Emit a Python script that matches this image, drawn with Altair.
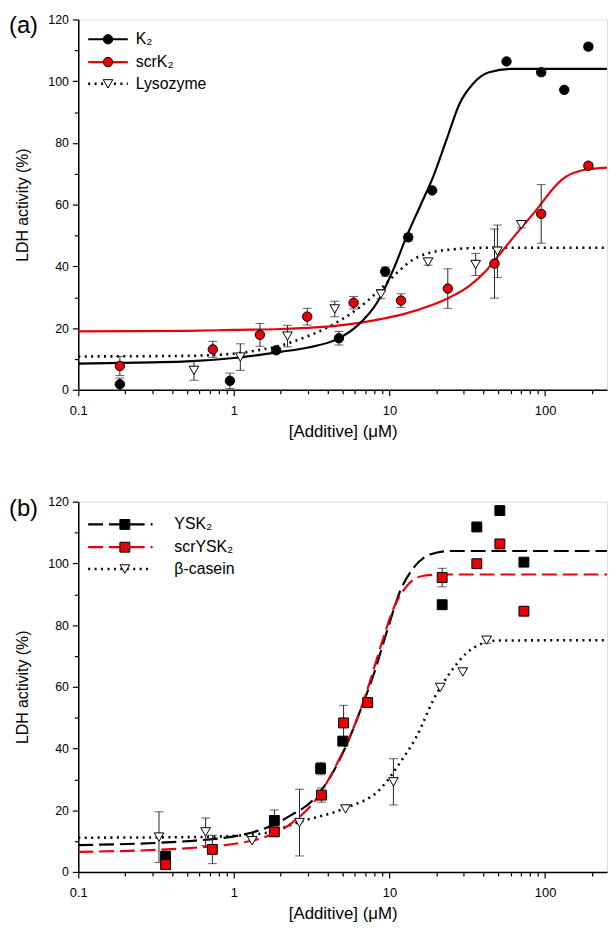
import altair as alt
import pandas as pd

# ---------------- Panel (a) ----------------
k2_x = [0.185, 0.943, 1.87, 4.73, 9.39, 13.2, 18.8, 56.5, 94.4, 132.8, 189.7]
k2_y = [1.8, 2.9, 12.8, 16.7, 38.3, 49.4, 64.6, 106.4, 102.9, 97.2, 111.2]
k2_err = [2.0, 2.5, 0.8, 2.2, 1.5, 1.2, 0.0, 0.0, 1.0, 0.0, 1.0]

scrk2_x = [0.185, 0.732, 1.47, 2.96, 5.88, 11.86, 23.7, 47.3, 94.4, 189.7]
scrk2_y = [7.7, 13.1, 17.8, 23.7, 28.2, 28.9, 32.8, 40.9, 57.0, 72.6]
scrk2_err = [3.1, 2.6, 3.7, 2.7, 2.0, 2.2, 6.4, 11.2, 9.5, 1.0]

lys_x = [0.554, 1.10, 2.21, 4.45, 8.81, 17.7, 35.8, 49.4, 70.3]
lys_y = [6.3, 10.6, 17.4, 26.2, 31.0, 41.4, 40.6, 44.9, 53.5]
lys_err = [3.2, 4.3, 3.5, 2.5, 1.5, 1.0, 3.6, 8.5, 1.0]

k2_fit_x = [0.1, 0.3, 0.5, 1, 2, 3, 4.64, 6.22, 8.33, 10.6, 12.9, 15.7, 19.1, 23.2, 28.2, 34.3, 43.7, 61.5, 250]
k2_fit_y = [8.5, 8.9, 9.2, 10.3, 12.3, 13.7, 16.5, 20.8, 28.3, 39.0, 49.8, 59.4, 69.1, 80.9, 92.7, 99.1, 102.9, 104.0, 104.0]

scrk2_fit_x = [0.1, 0.5, 1, 2, 4.64, 6.22, 8.74, 12.3, 18.2, 24.3, 32.6, 41.6, 53.1, 67.7, 86.4, 115.8, 127.7, 179.5, 250]
scrk2_fit_y = [18.9, 19.1, 19.4, 19.7, 20.8, 21.6, 22.9, 24.5, 27.2, 29.9, 33.7, 38.5, 45.0, 51.5, 57.8, 65.9, 68.0, 71.3, 72.0]

lys_fit_x = [0.1, 0.5, 1, 1.5, 2, 2.59, 4.21, 6.22, 8.74, 11.2, 14.2, 18.2, 25.6, 40, 250]
lys_fit_y = [10.8, 11.0, 11.7, 13.0, 14.3, 16.2, 20.8, 26.2, 32.6, 38.0, 42.2, 44.4, 45.5, 46.0, 46.0]

# ---------------- Panel (b) ----------------
ysk2_x = [0.364, 1.82, 3.61, 5.01, 21.8, 36.4, 51.2, 73.1]
ysk2_y = [5.1, 16.7, 33.5, 42.4, 86.6, 111.8, 117.1, 100.4]
ysk2_err = [1.0, 3.4, 2.0, 1.0, 1.0, 0.0, 0.0, 0.0]

scrysk2_x = [0.364, 0.727, 1.82, 3.65, 5.07, 7.24, 21.8, 36.4, 51.2, 73.1]
scrysk2_y = [2.4, 7.3, 13.0, 24.9, 48.3, 54.9, 95.4, 99.9, 106.3, 84.5]
scrysk2_err = [1.0, 4.6, 1.0, 2.3, 5.7, 0.8, 3.0, 1.0, 1.0, 0.0]

cas_x = [0.33, 0.658, 1.31, 2.64, 5.22, 10.6, 21.2, 29.6, 42.1]
cas_y = [11.3, 13.0, 10.1, 16.0, 20.4, 29.2, 59.8, 64.8, 75.1]
cas_err = [8.2, 4.5, 0.0, 10.8, 0.0, 7.5, 0.0, 0.0, 1.0]

ysk2_fit_x = [0.1, 0.543, 1.44, 2.35, 3.15, 4.22, 5.38, 6.54, 7.96, 9.67, 11.75, 14.3, 18.2, 24.4, 250]
ysk2_fit_y = [8.7, 10.1, 13.4, 18.5, 22.8, 31.3, 42.0, 52.7, 64.4, 78.3, 91.2, 98.6, 102.9, 104.0, 104.0]

scrysk2_fit_x = [0.1, 0.543, 1.44, 2.35, 3.47, 4.65, 5.94, 7.21, 8.77, 10.7, 13.0, 16.6, 22, 250]
scrysk2_fit_y = [6.5, 7.8, 10.7, 15.8, 24.4, 35.6, 47.3, 59.1, 73.0, 85.8, 92.8, 96.0, 96.4, 96.4]

cas_fit_x = [0.1, 0.543, 1.44, 2.72, 5.13, 8.77, 11.75, 15.0, 19.2, 24.4, 31.2, 39.8, 50, 250]
cas_fit_y = [11.1, 11.3, 12.3, 16.4, 20.6, 27.0, 35.6, 44.1, 55.9, 64.4, 70.9, 74.1, 75.0, 75.1]

x_ticks = [0.1, 0.2, 0.3, 0.4, 0.5, 0.6, 0.7, 0.8, 0.9,
           1, 2, 3, 4, 5, 6, 7, 8, 9,
           10, 20, 30, 40, 50, 60, 70, 80, 90,
           100, 200]
y_ticks = list(range(0, 121, 10))

RED = "#e8000b"
FONT = "Liberation Sans"
W, H = 534, 374

x_major = "datum.value == 0.1 || datum.value == 1 || datum.value == 10 || datum.value == 100"
x_axis = alt.Axis(
    values=x_ticks,
    labelExpr="datum.value == 0.1 ? '0.1' : datum.value == 1 ? '1' : datum.value == 10 ? '10' : datum.value == 100 ? '100' : ''",
    tickSize={"condition": {"test": x_major, "value": 6}, "value": 4},
    grid=False, labelFlush=False, labelOverlap=False,
    domainColor="black", tickColor="black", labelColor="black", titleColor="black",
    domainWidth=1.5, tickWidth=1.2, labelFontSize=13, titleFontSize=17,
    labelPadding=9, titlePadding=6, titleFontWeight="normal",
    labelFont=FONT, titleFont=FONT,
)
y_axis = alt.Axis(
    values=y_ticks,
    labelExpr="datum.value % 20 == 0 ? datum.label : ''",
    tickSize={"condition": {"test": "datum.value % 20 == 0", "value": 6}, "value": 4},
    grid=False, labelOverlap=False,
    domainColor="black", tickColor="black", labelColor="black", titleColor="black",
    domainWidth=1.5, tickWidth=1.2, labelFontSize=12.5, titleFontSize=16,
    labelPadding=4, titlePadding=17, titleFontWeight="normal",
    labelFont=FONT, titleFont=FONT,
)

x_scale = alt.Scale(type="log", domain=[0.1, 250], nice=False)
y_scale = alt.Scale(domain=[0, 120], nice=False)


def X():
    return alt.X("x:Q", scale=x_scale, axis=x_axis, title="[Additive] (μM)")


def Y(field="y"):
    return alt.Y(f"{field}:Q", scale=y_scale, axis=y_axis, title="LDH activity (%)")


def curve(xs, ys, color, dash=None, width=2.2):
    df = pd.DataFrame({"x": xs, "y": ys})
    kw = dict(color=color, strokeWidth=width, interpolate="monotone", clip=True)
    if dash:
        kw["strokeDash"] = dash
    return alt.Chart(df).mark_line(**kw).encode(x=X(), y=Y())


def errbars(xs, ys, errs):
    rows = [{"x": a, "lo": b - e, "hi": b + e} for a, b, e in zip(xs, ys, errs) if e > 0]
    df = pd.DataFrame(rows)
    base = alt.Chart(df)
    rule = base.mark_rule(color="#222", strokeWidth=1).encode(x=X(), y=Y("lo"), y2="hi:Q")
    cap_lo = base.mark_tick(color="#222", orient="horizontal", size=9, thickness=1).encode(x=X(), y=Y("lo"))
    cap_hi = base.mark_tick(color="#222", orient="horizontal", size=9, thickness=1).encode(x=X(), y=Y("hi"))
    return [rule, cap_lo, cap_hi]


def points(xs, ys, shape, fill, size):
    df = pd.DataFrame({"x": xs, "y": ys})
    return alt.Chart(df).mark_point(
        shape=shape, filled=True, fill=fill, stroke="black", strokeWidth=1,
        size=size, opacity=1, fillOpacity=1,
    ).encode(x=X(), y=Y())


ONE = alt.Data(values=[{}])


def legend(entries, xl0, xl1, xm, xt, fs=16):
    layers = []
    for e in entries:
        kw = dict(color=e["color"], strokeWidth=e.get("width", 2.2))
        if e.get("dash"):
            kw["strokeDash"] = e["dash"]
        layers.append(alt.Chart(ONE).mark_rule(**kw).encode(
            x=alt.value(xl0), x2=alt.value(xl1), y=alt.value(e["y"])))
        layers.append(alt.Chart(ONE).mark_point(
            shape=e["shape"], filled=True, fill=e["fill"], stroke="black", strokeWidth=1,
            size=e["size"], opacity=1).encode(x=alt.value(xm), y=alt.value(e["y"])))
        layers.append(alt.Chart(ONE).mark_text(
            text=e["text"], align="left", baseline="middle", fontSize=fs, font=FONT, color="black"
        ).encode(x=alt.value(xt), y=alt.value(e["y"])))
    return layers


def panel_label(txt):
    return alt.Chart(ONE).mark_text(
        text=txt, align="left", baseline="middle", fontSize=24, font=FONT, color="black"
    ).encode(x=alt.value(-70), y=alt.value(7))


DOT = [2, 4.5]
DASH = [15, 6]

top_layers = (
    [curve(lys_fit_x, lys_fit_y, "black", DOT, 2.6),
     curve(scrk2_fit_x, scrk2_fit_y, RED),
     curve(k2_fit_x, k2_fit_y, "black")]
    + errbars(k2_x, k2_y, k2_err)
    + errbars(scrk2_x, scrk2_y, scrk2_err)
    + errbars(lys_x, lys_y, lys_err)
    + [points(lys_x, lys_y, "triangle-down", "white", 95),
       points(k2_x, k2_y, "circle", "black", 90),
       points(scrk2_x, scrk2_y, "circle", RED, 90)]
    + legend([
        {"text": "K₂", "color": "black", "shape": "circle", "fill": "black", "size": 90, "y": 20},
        {"text": "scrK₂", "color": RED, "shape": "circle", "fill": RED, "size": 90, "y": 43},
        {"text": "Lysozyme", "color": "black", "dash": DOT, "width": 2.6,
         "shape": "triangle-down", "fill": "white", "size": 95, "y": 65},
    ], 10, 50, 30, 58)
    + [panel_label("(a)")]
)

bottom_layers = (
    [curve(cas_fit_x, cas_fit_y, "black", DOT, 2.6),
     curve(ysk2_fit_x, ysk2_fit_y, "black", DASH),
     curve(scrysk2_fit_x, scrysk2_fit_y, RED, DASH)]
    + errbars(ysk2_x, ysk2_y, ysk2_err)
    + errbars(scrysk2_x, scrysk2_y, scrysk2_err)
    + errbars(cas_x, cas_y, cas_err)
    + [points(cas_x, cas_y, "triangle-down", "white", 95),
       points(ysk2_x, ysk2_y, "square", "black", 100),
       points(scrysk2_x, scrysk2_y, "square", RED, 100)]
    + legend([
        {"text": "YSK₂", "color": "black", "dash": DASH, "shape": "square", "fill": "black", "size": 100, "y": 23},
        {"text": "scrYSK₂", "color": RED, "dash": DASH, "shape": "square", "fill": RED, "size": 100, "y": 46},
        {"text": "β-casein", "color": "black", "dash": DOT, "width": 2.6,
         "shape": "triangle-down", "fill": "white", "size": 95, "y": 68},
    ], 10, 75, 47, 97)
    + [panel_label("(b)")]
)

top = alt.layer(*top_layers).properties(width=W, height=H)
bottom = alt.layer(*bottom_layers).properties(width=W, height=H)

chart = alt.vconcat(top, bottom, spacing=55).properties(
    padding={"left": 0, "top": 0, "right": 0, "bottom": 0}
).configure_view(stroke="black", strokeWidth=1.5).configure(font=FONT)

chart.save("out.html", embed_options={"renderer": "svg", "actions": False})
